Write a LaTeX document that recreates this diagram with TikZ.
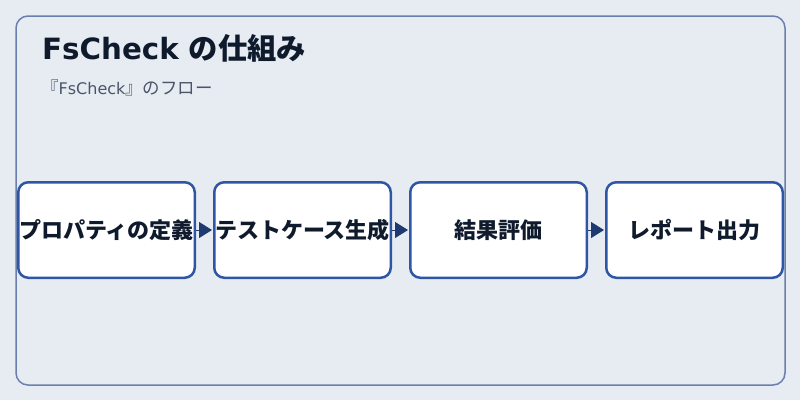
\documentclass[tikz,border=0pt]{standalone}
\usepackage{fontspec}
\setmainfont{Noto Sans CJK JP}
\newfontfamily\latinsans{DejaVu Sans}
\usetikzlibrary{positioning,arrows.meta}
\definecolor{pagebg}{HTML}{E6ECF2}
\definecolor{framecol}{HTML}{6B7FAF}
\definecolor{boxblue}{HTML}{2F56A4}
\definecolor{arrownavy}{HTML}{1E3A6E}
\definecolor{titleink}{HTML}{0F1B2D}
\definecolor{subink}{HTML}{4A5568}

\begin{document}
\begin{tikzpicture}[x=1pt, y=-1pt,
    stepbox/.style={draw=boxblue, line width=2.5pt, fill=white, rounded corners=10pt,
        minimum width=176.5pt, minimum height=95.5pt, inner sep=0pt,
        font=\fontsize{22}{25}\selectfont\bfseries, text=titleink},
    flow/.style={arrownavy, line width=1pt, shorten >=1pt, -{Triangle[length=13pt, width=16pt]}}]
    % Draw background and frame
    \fill[pagebg] (0,0) rectangle (800,400);
    \useasboundingbox (0,0) rectangle (800,400);
    \draw[framecol, line width=1.5pt, rounded corners=12pt] (16,16) rectangle (785,385);
    % Draw title and subtitle
    \node[anchor=base west, inner sep=0pt, text=titleink, font=\fontsize{29.3}{32}\selectfont\bfseries] (title) at (42,59) {{\latinsans FsCheck }の仕組み};
    \node[anchor=base west, inner sep=0pt, text=subink, font=\fontsize{17.5}{20}\selectfont] (subtitle) at (41,94.5) {『{\latinsans\fontsize{16}{19}\selectfont FsCheck}』のフロー};
    % Draw the four steps
    \node[stepbox] (define) at (106.5,230) {プロパティの定義};
    \node[stepbox] (generate) at (302.5,230) {テストケース生成};
    \node[stepbox] (evaluate) at (498.5,230) {結果評価};
    \node[stepbox] (report) at (694.5,230) {レポート出力};
    % Draw arrows between them
    \draw[flow] (define) -- (generate);
    \draw[flow] (generate) -- (evaluate);
    \draw[flow] (evaluate) -- (report);
\end{tikzpicture}
\end{document}
